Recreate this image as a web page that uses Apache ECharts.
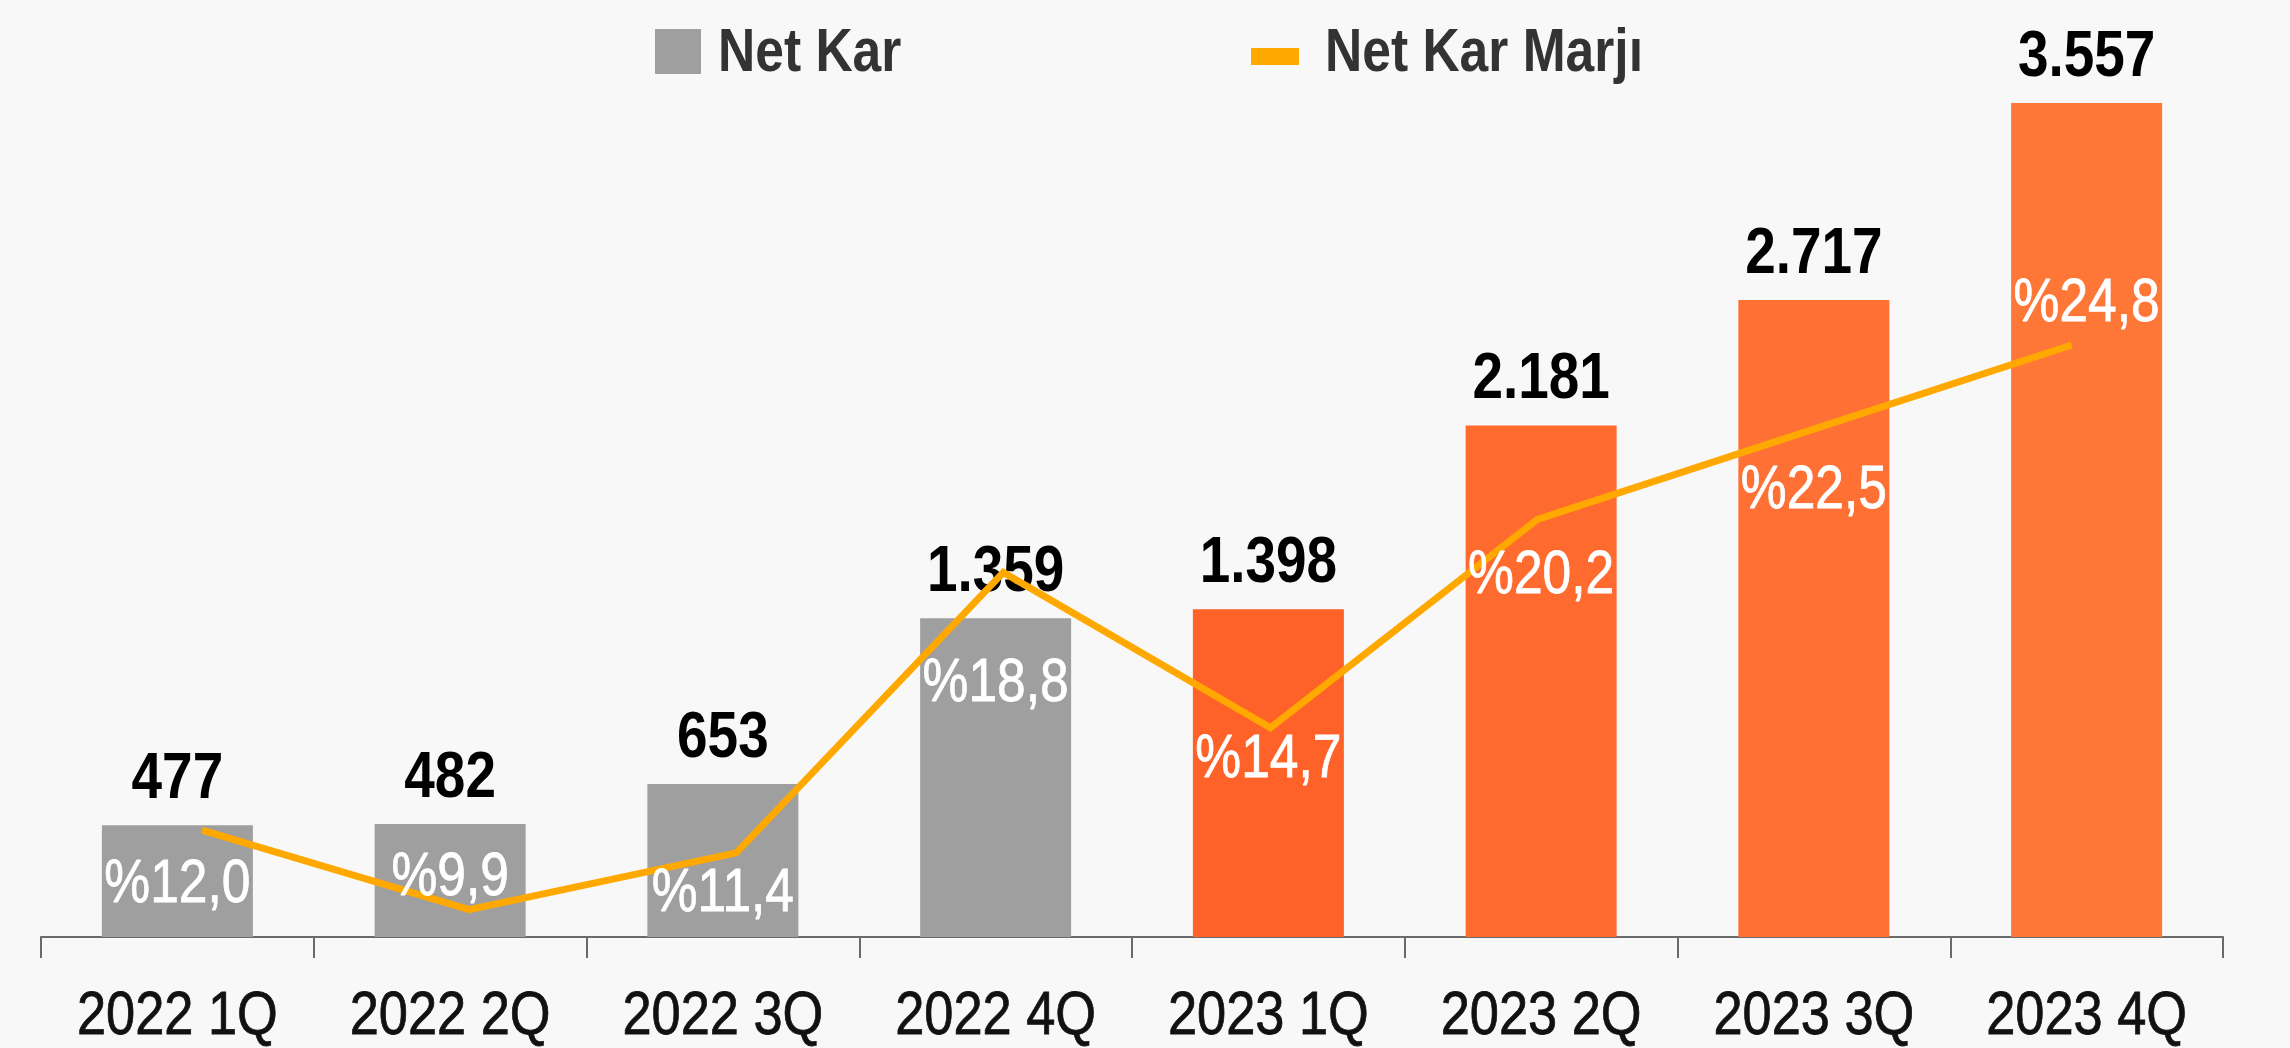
<!DOCTYPE html>
<html>
<head>
<meta charset="utf-8">
<title>Net Kar ve Net Kar Marjı</title>
<script src="https://cdn.jsdelivr.net/npm/echarts@6/dist/echarts.min.js"></script>
<style>
  html, body { margin: 0; padding: 0; background: #F8F8F8; }
  #chart { width: 2290px; height: 1048px; }
</style>
</head>
<body>
<div id="chart"></div>
<script>
// Quarterly net profit (mn) and net profit margin (%)
const quarters = ['2022 1Q', '2022 2Q', '2022 3Q', '2022 4Q', '2023 1Q', '2023 2Q', '2023 3Q', '2023 4Q'];
const netKar = [477, 482, 653, 1359, 1398, 2181, 2717, 3557];
const netKarMarji = [12.0, 9.9, 11.4, 18.8, 14.7, 20.2, 22.5, 24.8];

// Styling
const FACE = '"Liberation Sans", Arial, sans-serif';
const NARROW = 0.845;                       // horizontal squeeze for a condensed look
const barColors = ['#9F9F9F', '#9F9F9F', '#9F9F9F', '#9F9F9F', '#FF6228', '#FF6A2E', '#FF7034', '#FF7737'];
const lineColor = '#FFA900';
// vertical nudge (px) of each margin label relative to its line point
const marginLabelShift = [55, -32, 41, 112, 32, 57, 59, -41];

const fmtThousands = v => String(v).replace(/\B(?=(\d{3})+(?!\d))/g, '.');
const fmtPercent = v => '%' + v.toFixed(1).replace('.', ',');

// Condensed text placed at a data coordinate of the given axes
function textSeries(name, yAxisIndex, values, z, opts) {
  return {
    name, type: 'custom', xAxisIndex: 0, yAxisIndex, z, silent: true,
    data: values.map((v, i) => [i, v]),
    renderItem: (params, api) => {
      const i = params.dataIndex;
      const pt = api.coord([api.value(0), api.value(1)]);
      return {
        type: 'text',
        x: pt[0],
        y: opts.y ? opts.y(pt, i) : pt[1],
        scaleX: NARROW,
        style: {
          text: opts.text(i),
          font: opts.font,
          fill: opts.color,
          stroke: opts.stroke || null,
          lineWidth: opts.stroke ? 0.8 : 0,
          align: 'center',
          verticalAlign: 'middle'
        }
      };
    }
  };
}

const chart = echarts.init(document.getElementById('chart'), null, { renderer: 'canvas' });

chart.setOption({
  backgroundColor: '#F8F8F8',
  animation: false,
  graphic: [
    { type: 'rect', shape: { x: 655, y: 29, width: 46, height: 45 }, style: { fill: '#9F9F9F' } },
    { type: 'text', x: 718, y: 54, scaleX: NARROW,
      style: { text: 'Net Kar', font: 'bold 61px ' + FACE, fill: '#333333', align: 'left', verticalAlign: 'middle' } },
    { type: 'rect', shape: { x: 1251, y: 48, width: 48, height: 17 }, style: { fill: lineColor } },
    { type: 'text', x: 1325, y: 54, scaleX: NARROW,
      style: { text: 'Net Kar Marjı', font: 'bold 61px ' + FACE, fill: '#333333', align: 'left', verticalAlign: 'middle' } }
  ],
  grid: [
    { left: 41, right: 67, top: 60, bottom: 111 },
    { left: 68.5, right: 84.75, top: 60, bottom: 111 }
  ],
  xAxis: [
    {
      type: 'category', gridIndex: 0, data: quarters,
      axisLine: { lineStyle: { color: '#6A6A6A', width: 2 } },
      axisTick: { show: true, length: 21, lineStyle: { color: '#6A6A6A', width: 2 } },
      axisLabel: { show: false }
    },
    { type: 'category', gridIndex: 1, data: quarters, show: false }
  ],
  yAxis: [
    { type: 'value', gridIndex: 0, min: 0, max: 3740, show: false, splitLine: { show: false } },
    { type: 'value', gridIndex: 0, min: 9.18, max: 32.32, show: false, splitLine: { show: false } },
    { type: 'value', gridIndex: 1, min: 9.18, max: 32.32, show: false, splitLine: { show: false } }
  ],
  series: [
    {
      name: 'Net Kar', type: 'bar', xAxisIndex: 0, yAxisIndex: 0,
      data: netKar, barWidth: 151, z: 2,
      itemStyle: { color: p => barColors[p.dataIndex] }
    },
    // value above each bar
    textSeries('Net Kar etiketi', 0, netKar, 2, {
      text: i => fmtThousands(netKar[i]),
      font: 'bold 65px ' + FACE, color: '#000000',
      y: pt => pt[1] - 45
    }),
    // quarter names under the axis
    textSeries('Çeyrek', 0, netKar.map(() => 0), 2, {
      text: i => quarters[i],
      font: '62px ' + FACE, color: '#111111', stroke: '#111111',
      y: pt => pt[1] + 80
    }),
    {
      name: 'Net Kar Marjı', type: 'line', xAxisIndex: 1, yAxisIndex: 2,
      data: netKarMarji, z: 3,
      symbol: 'none',
      lineStyle: { color: lineColor, width: 7, join: 'miter' },
      itemStyle: { color: lineColor }
    },
    // margin values written on the bars
    textSeries('Marj etiketi', 1, netKarMarji, 4, {
      text: i => fmtPercent(netKarMarji[i]),
      font: '61px ' + FACE, color: '#FFFFFF', stroke: '#FFFFFF',
      y: (pt, i) => pt[1] + marginLabelShift[i]
    })
  ]
});
</script>
</body>
</html>
